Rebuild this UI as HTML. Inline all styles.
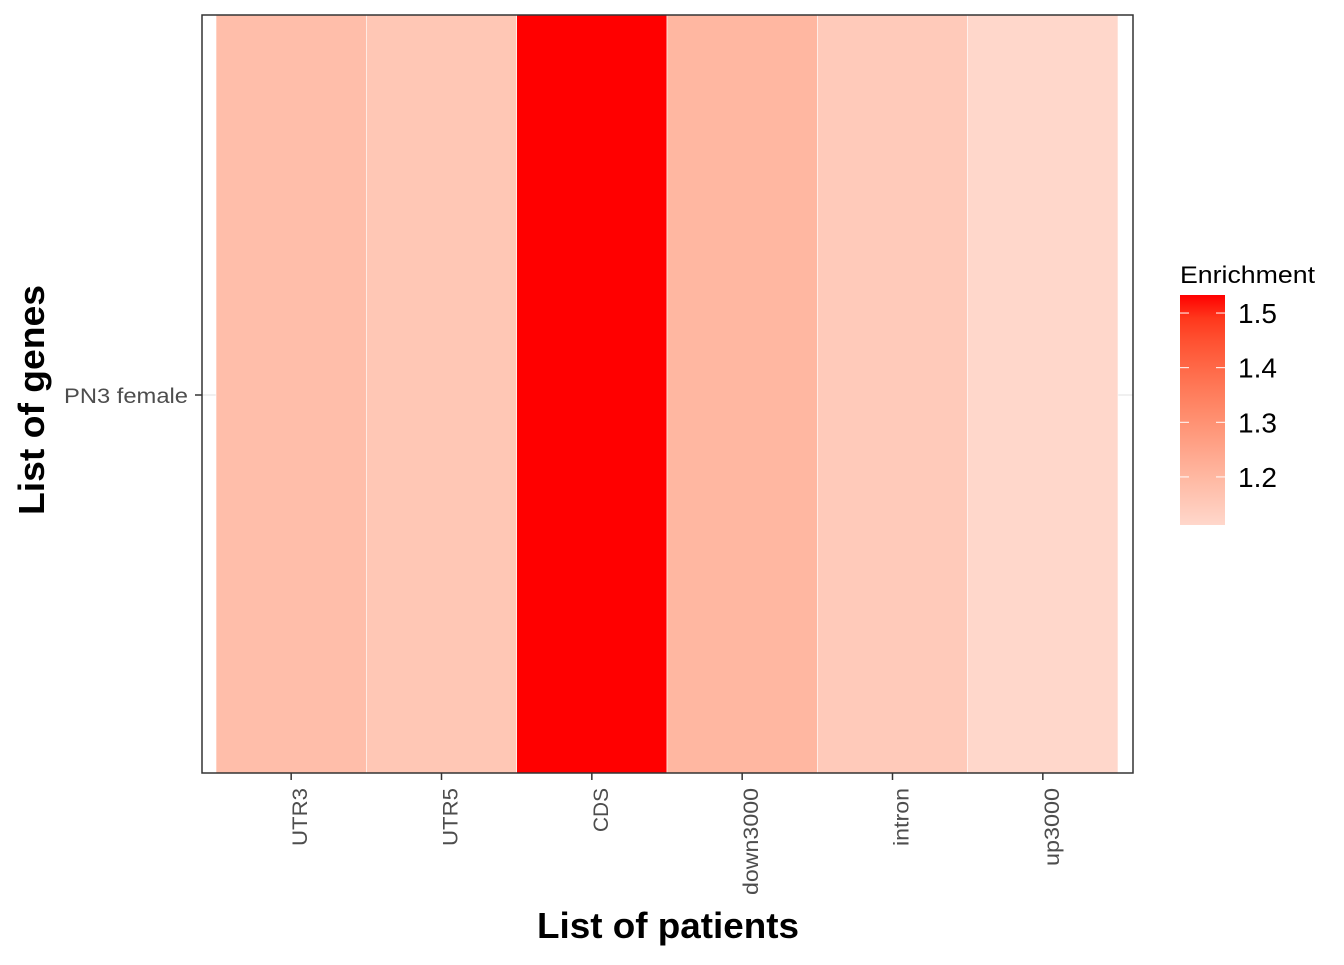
<!DOCTYPE html>
<html><head><meta charset="utf-8"><style>
body{margin:0;background:#fff;font-family:"Liberation Sans",sans-serif}
</style></head><body>
<svg id="chart" width="1344" height="960" xmlns="http://www.w3.org/2000/svg">
<rect x="202" y="15" width="931" height="758" fill="#fff"/>
<line x1="202" y1="395" x2="1133" y2="395" stroke="#ebebeb" stroke-width="1.5"/>
<g id="tiles"></g>
<rect x="202" y="15" width="931" height="758" fill="none" stroke="#333" stroke-width="1.5"/>
<line x1="195" y1="395" x2="202" y2="395" stroke="#333" stroke-width="1.5"/>
<text x="188" y="403" text-anchor="end" font-size="21" fill="#4d4d4d" textLength="124" lengthAdjust="spacingAndGlyphs">PN3 female</text>
<g id="xticks"></g>
<text x="668" y="938" text-anchor="middle" font-size="36" font-weight="bold" textLength="262" lengthAdjust="spacingAndGlyphs">List of patients</text>
<text transform="translate(44,400) rotate(-90)" text-anchor="middle" font-size="36" font-weight="bold" textLength="230" lengthAdjust="spacingAndGlyphs">List of genes</text>
<defs><linearGradient id="lg" x1="0" y1="0" x2="0" y2="1"></linearGradient></defs>
<text x="1180" y="283" font-size="24" textLength="135" lengthAdjust="spacingAndGlyphs">Enrichment</text>
<rect x="1180" y="295" width="45" height="230" fill="url(#lg)"/>
<g id="legticks"></g>
</svg>
<script>
const categories=["UTR3","UTR5","CDS","down3000","intron","up3000"];
const enrichment=[1.182,1.158,1.533,1.2,1.147,1.112];
const legendTicks=[1.2,1.3,1.4,1.5];
const vmin=1.112,vmax=1.533;
const ns="http://www.w3.org/2000/svg";
const x0=216,x1=1118,bw=(x1-x0)/categories.length;
function xs(i){return x0+i*bw;}
function ly(v){return 525-(v-vmin)/(vmax-vmin)*230;}
function toLin(c){c/=255;return c<=0.04045?c/12.92:Math.pow((c+0.055)/1.055,2.4);}
function fromLin(c){c=c<=0.0031308?12.92*c:1.055*Math.pow(c,1/2.4)-0.055;return Math.max(0,Math.min(255,Math.round(c*255)));}
function rgb2lab(r){const [R,G,B]=r.map(toLin);
let X=(0.4124*R+0.3576*G+0.1805*B)/0.95047,Y=0.2126*R+0.7152*G+0.0722*B,Z=(0.0193*R+0.1192*G+0.9505*B)/1.08883;
const f=t=>t>0.008856?Math.cbrt(t):7.787*t+16/116;X=f(X);Y=f(Y);Z=f(Z);
return [116*Y-16,500*(X-Y),200*(Y-Z)];}
function lab2rgb(l){let Y=(l[0]+16)/116,X=l[1]/500+Y,Z=Y-l[2]/200;
const g=t=>t*t*t>0.008856?t*t*t:(t-16/116)/7.787;X=g(X)*0.95047;Y=g(Y);Z=g(Z)*1.08883;
const R=3.2406*X-1.5372*Y-0.4986*Z,G=-0.9689*X+1.8758*Y+0.0415*Z,B=0.0557*X-0.2040*Y+1.0570*Z;
return [R,G,B].map(fromLin);}
const LO=rgb2lab([255,215,203]),HI=rgb2lab([255,0,0]);
function col(v){const t=Math.max(0,Math.min(1,(v-vmin)/(vmax-vmin)));
return "rgb("+lab2rgb(LO.map((c,k)=>c+(HI[k]-c)*t)).join(",")+")";}
const grad=document.getElementById("lg");
for(let k=0;k<=10;k++){const s=document.createElementNS(ns,"stop");s.setAttribute("offset",k/10);
s.setAttribute("stop-color",col(vmax-(vmax-vmin)*k/10));grad.appendChild(s);}
const tg=document.getElementById("tiles"),xg=document.getElementById("xticks"),lg=document.getElementById("legticks");
const lens={"UTR3":58,"UTR5":58,"CDS":44,"down3000":107,"intron":58,"up3000":78};
categories.forEach((c,i)=>{
const r=document.createElementNS(ns,"rect");
r.setAttribute("x",xs(i));r.setAttribute("y",15);r.setAttribute("width",bw);r.setAttribute("height",758);
r.setAttribute("fill",col(enrichment[i]));r.setAttribute("stroke","#fff");r.setAttribute("stroke-width","0.6");


tg.appendChild(r);
const cx=xs(i)+bw/2;
const t=document.createElementNS(ns,"line");
t.setAttribute("x1",cx);t.setAttribute("x2",cx);t.setAttribute("y1",773);t.setAttribute("y2",780);t.setAttribute("stroke","#333");t.setAttribute("stroke-width","1.5");


xg.appendChild(t);
const l=document.createElementNS(ns,"text");
l.setAttribute("transform","translate("+(cx+16)+",788) rotate(-90)");l.setAttribute("text-anchor","end");
l.setAttribute("font-size","21");l.setAttribute("fill","#4d4d4d");l.textContent=c;
if(lens[c]){l.setAttribute("textLength",lens[c]);l.setAttribute("lengthAdjust","spacingAndGlyphs");}


xg.appendChild(l);
});
legendTicks.forEach(v=>{
const y=ly(v);
[[1180,1189],[1216,1225]].forEach(p=>{const t=document.createElementNS(ns,"line");
t.setAttribute("x1",p[0]);t.setAttribute("x2",p[1]);t.setAttribute("y1",y);t.setAttribute("y2",y);t.setAttribute("stroke","#fff");t.setAttribute("stroke-width","1");


lg.appendChild(t);});
const l=document.createElementNS(ns,"text");
l.setAttribute("x",1238);l.setAttribute("y",y+10);l.setAttribute("font-size","28");l.textContent=v.toFixed(1);


lg.appendChild(l);
});
</script>
</body></html>
